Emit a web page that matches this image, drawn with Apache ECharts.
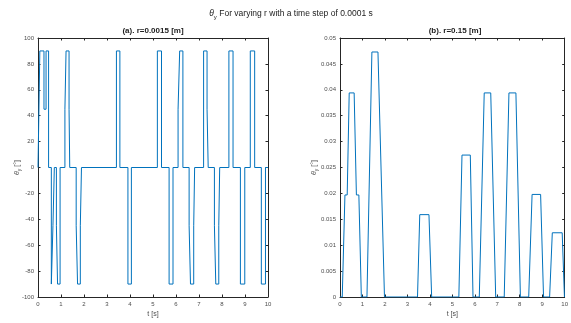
<!DOCTYPE html>
<html><head><meta charset="utf-8">
<script src="https://cdn.jsdelivr.net/npm/echarts@6/dist/echarts.min.js"></script>
<style>html,body{margin:0;padding:0;background:#fff}#c{width:571px;height:323px}</style>
</head><body><div id="c"></div>
<script>
// Left panel (a): step signal, time [s] and theta_y [deg]
const tA = [0, 0.08, 0.26, 0.35, 0.46, 0.58, 0.65, 0.71, 0.8, 0.85, 0.96, 1.17, 1.22, 1.35, 1.38, 1.66, 1.72, 1.84, 1.89, 3.41, 3.56, 3.91, 4.06, 5.19, 5.37, 5.70, 5.87, 6.09, 6.16, 6.30, 6.57, 6.63, 6.77, 6.81, 7.20, 7.35, 7.40, 7.67, 7.73, 7.86, 7.90, 8.30, 8.48, 8.80, 8.99, 9.23, 9.42, 9.71, 9.89, 10];
const thA = [0, 90, 45, 90, 0, -90, -45, 0, -45, -90, 0, 45, 90, 45, 0, -45, -90, -45, 0, 90, 0, -90, 0, 90, 0, -90, 0, 45, 90, 0, -45, -90, -45, 0, 90, 45, 0, -45, -90, -45, 0, 90, 0, -90, 0, 90, 0, -90, 0, 0];
// Right panel (b)
const tB = [0, 0.1, 0.22, 0.32, 0.41, 0.63, 0.73, 0.84, 0.95, 1.2, 1.42, 1.69, 1.98, 3.45, 3.55, 3.96, 4.08, 5.29, 5.43, 5.8, 5.92, 6.2, 6.42, 6.71, 6.93, 7.31, 7.52, 7.83, 8.03, 8.4, 8.55, 8.93, 9.06, 9.33, 9.45, 9.89, 9.99, 10];
const thB = [0, 0, 0.0197, 0.0197, 0.0394, 0.0394, 0.0197, 0.0197, 0, 0, 0.0473, 0.0473, 0, 0, 0.0159, 0.0159, 0, 0, 0.0274, 0.0274, 0, 0, 0.0394, 0.0394, 0, 0, 0.0394, 0.0394, 0, 0, 0.0198, 0.0198, 0, 0, 0.0124, 0.0124, 0, 0];

const mainTitle = ' For varying r with a time step of 0.0001 s';
const titleA = '(a). r=0.0015 [m]';
const titleB = '(b). r=0.15 [m]';
const xName = 't [s]';

const FONT = 'Liberation Sans';
const AX = '#262626';
const LBL = '#4d4d4d';
const BLUE = '#0072BD';

// Zero-order hold: each value holds until the next change time
const stepA = [];
tA.forEach((t, i) => {
  if (i > 0) stepA.push([t, thA[i - 1]]);
  stepA.push([t, thA[i]]);
});

function xAx(gi, show) {
  return {
    type: 'value', gridIndex: gi, min: 0, max: 10, interval: 1,
    position: show ? 'bottom' : 'top',
    name: show ? xName : '', nameLocation: 'middle', nameGap: 14,
    nameMoveOverlap: false,
    nameTextStyle: {fontFamily: FONT, fontSize: 7, color: LBL},
    axisLine: {show: true, onZero: false, lineStyle: {color: AX, width: 1}},
    axisTick: {show: true, inside: true, length: 2.5, lineStyle: {color: AX}},
    axisLabel: {show: show, fontFamily: FONT, fontSize: 6, color: LBL, margin: 4},
    splitLine: {show: false}
  };
}
function yAx(gi, show, min, max, interval, gap) {
  return {
    type: 'value', gridIndex: gi, min: min, max: max, interval: interval,
    position: show ? 'left' : 'right',
    name: show ? '{t|θ}{s|y} [°]' : '', nameLocation: 'middle', nameRotate: 90, nameGap: gap,
    nameMoveOverlap: false,
    nameTextStyle: {fontFamily: FONT, fontSize: 7, color: LBL,
      rich: {t: {fontFamily: FONT, fontSize: 7, fontStyle: 'italic', color: LBL},
             s: {fontFamily: FONT, fontSize: 5, color: LBL, verticalAlign: 'bottom', padding: [4, 0, 0, 0]}}},
    axisLine: {show: true, onZero: false, lineStyle: {color: AX, width: 1}},
    axisTick: {show: true, inside: true, length: 2.5, lineStyle: {color: AX}},
    axisLabel: {show: show, fontFamily: FONT, fontSize: 6, color: LBL, margin: 4},
    splitLine: {show: false}
  };
}

const chart = echarts.init(document.getElementById('c'), null, {renderer: 'canvas'});
chart.setOption({
  animation: false,
  backgroundColor: '#fff',
  title: [
    {text: '{t|θ}{s|y}{m|' + mainTitle + '}', left: 291, top: 8, padding: 0, textAlign: 'center',
     textStyle: {fontWeight: 'normal', rich: {
       t: {fontFamily: FONT, fontSize: 8.5, fontStyle: 'italic', fontWeight: 'normal', color: '#222'},
       s: {fontFamily: FONT, fontSize: 6, fontWeight: 'normal', color: '#222', verticalAlign: 'bottom', padding: [6, 0, 0, 0]},
       m: {fontFamily: FONT, fontSize: 8.5, fontWeight: 'normal', color: '#222'}}}},
    {text: titleA, left: 153, top: 27, padding: 0, textAlign: 'center',
     textStyle: {fontFamily: FONT, fontSize: 8, fontWeight: 'bold', color: '#222'}},
    {text: titleB, left: 455, top: 27, padding: 0, textAlign: 'center',
     textStyle: {fontFamily: FONT, fontSize: 8, fontWeight: 'bold', color: '#222'}}
  ],
  grid: [
    {left: 38, top: 38, width: 230, height: 262},
    {left: 340, top: 38, width: 229, height: 262}
  ],
  xAxis: [xAx(0, true), xAx(0, false), xAx(1, true), xAx(1, false)],
  yAxis: [yAx(0, true, -100, 100, 20, 16), yAx(0, false, -100, 100, 20, 0),
          yAx(1, true, 0, 0.05, 0.005, 21), yAx(1, false, 0, 0.05, 0.005, 0)],
  series: [
    {type: 'line', xAxisIndex: 0, yAxisIndex: 0, showSymbol: false, symbol: 'none',
     lineStyle: {color: BLUE, width: 1}, itemStyle: {color: BLUE},
     data: stepA},
    {type: 'line', xAxisIndex: 2, yAxisIndex: 2, showSymbol: false, symbol: 'none',
     lineStyle: {color: BLUE, width: 1}, itemStyle: {color: BLUE},
     data: tB.map((t, i) => [t, thB[i]])}
  ]
});
</script></body></html>
